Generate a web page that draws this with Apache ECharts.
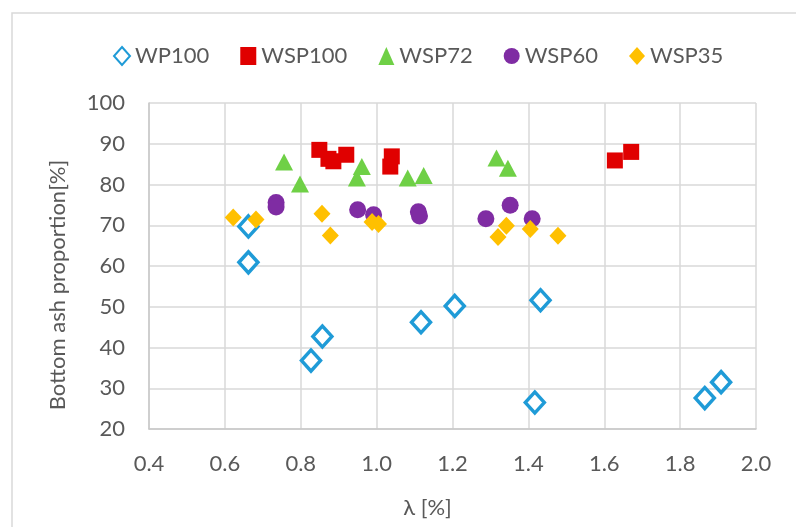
<!DOCTYPE html>
<html>
<head>
<meta charset="utf-8">
<script src="https://cdn.jsdelivr.net/npm/echarts@6/dist/echarts.min.js"></script>
<style>
  html, body { margin: 0; padding: 0; background: #fff; }
  #chart { width: 796px; height: 527px; }
</style>
</head>
<body>
<div id="chart"></div>
<script>
// values: [lambda %, bottom ash %]
var wp100 = [[0.662, 69.7], [0.662, 60.9], [0.827, 36.8], [0.857, 42.7], [1.117, 46.2],
  [1.206, 50.2], [1.417, 26.5], [1.432, 51.6], [1.865, 27.6], [1.908, 31.5]];
var wsp100 = [[0.849, 88.5], [0.873, 86.3], [0.886, 85.7], [0.92, 87.3], [1.036, 84.4],
  [1.04, 86.9], [1.628, 85.9], [1.671, 88.0]];
var wsp72 = [[0.756, 85.5], [0.798, 80.1], [0.948, 81.6], [0.961, 84.4], [1.082, 81.6],
  [1.124, 82.2], [1.316, 86.5], [1.346, 84.0]];
var wsp60 = [[0.735, 75.6], [0.735, 74.5], [0.95, 73.8], [0.992, 72.6], [1.11, 73.3],
  [1.113, 72.3], [1.288, 71.6], [1.352, 74.9], [1.41, 71.6]];
var wsp35 = [[0.622, 71.9], [0.682, 71.4], [0.856, 72.8], [0.878, 67.5], [0.988, 70.8],
  [1.005, 70.3], [1.32, 67.1], [1.342, 69.9], [1.405, 69.1], [1.478, 67.4]];

var xName = 'λ [%]';
var yName = 'Bottom ash proportion[%]';

var font = 'Lato, "Open Sans", sans-serif';
var grey = '#595959';

var chart = echarts.init(document.getElementById('chart'));

chart.setOption({
  backgroundColor: '#fff',
  textStyle: { fontFamily: font },
  graphic: [{
    type: 'rect',
    shape: { x: 12, y: 13, width: 800, height: 530 },
    style: { fill: 'none', stroke: '#d9d9d9', lineWidth: 1.5 },
    silent: true
  }],
  legend: {
    top: 40,
    left: 108,
    itemGap: 31,
    itemWidth: 16,
    itemHeight: 18,
    textStyle: { color: grey, fontSize: 22, fontFamily: font }
  },
  grid: { left: 149, right: 40, top: 103, bottom: 98 },
  xAxis: {
    type: 'value',
    min: 0.4,
    max: 2.0,
    interval: 0.2,
    name: xName,
    nameLocation: 'middle',
    nameGap: 68,
    nameTextStyle: { color: grey, fontSize: 22, padding: [0, 50, 0, 0] },
    axisLine: { show: true, lineStyle: { color: '#c8c8c8', width: 1.5 } },
    axisTick: { show: false },
    axisLabel: {
      color: grey, fontSize: 22, margin: 24,
      formatter: function (v) { return v.toFixed(1); }
    },
    splitLine: { show: true, lineStyle: { color: '#d9d9d9', width: 1.5 } }
  },
  yAxis: {
    type: 'value',
    min: 20,
    max: 100,
    interval: 10,
    name: yName,
    nameLocation: 'middle',
    nameGap: 80,
    nameTextStyle: { color: grey, fontSize: 22, padding: [0, 38, 0, 0] },
    axisLine: { show: true, lineStyle: { color: '#c8c8c8', width: 1.5 } },
    axisTick: { show: false },
    axisLabel: { color: grey, fontSize: 22, margin: 24 },
    splitLine: { show: true, lineStyle: { color: '#d9d9d9', width: 1.5 } }
  },
  series: [
    {
      name: 'WP100', type: 'scatter', data: wp100,
      symbol: 'diamond', symbolSize: [19, 21],
      itemStyle: { color: '#fff', borderColor: '#1f9bd7', borderWidth: 3.5, opacity: 1 }
    },
    {
      name: 'WSP100', type: 'scatter', data: wsp100,
      symbol: 'rect', symbolSize: 16,
      itemStyle: { color: '#e00000', opacity: 1 }
    },
    {
      name: 'WSP72', type: 'scatter', data: wsp72,
      symbol: 'triangle', symbolSize: [18, 17],
      itemStyle: { color: '#6fd046', opacity: 1 }
    },
    {
      name: 'WSP60', type: 'scatter', data: wsp60,
      symbol: 'circle', symbolSize: 17,
      itemStyle: { color: '#7f2ca3', opacity: 1 }
    },
    {
      name: 'WSP35', type: 'scatter', data: wsp35,
      symbol: 'diamond', symbolSize: [17, 18],
      itemStyle: { color: '#ffc000', opacity: 1 }
    }
  ]
});
</script>
</body>
</html>
